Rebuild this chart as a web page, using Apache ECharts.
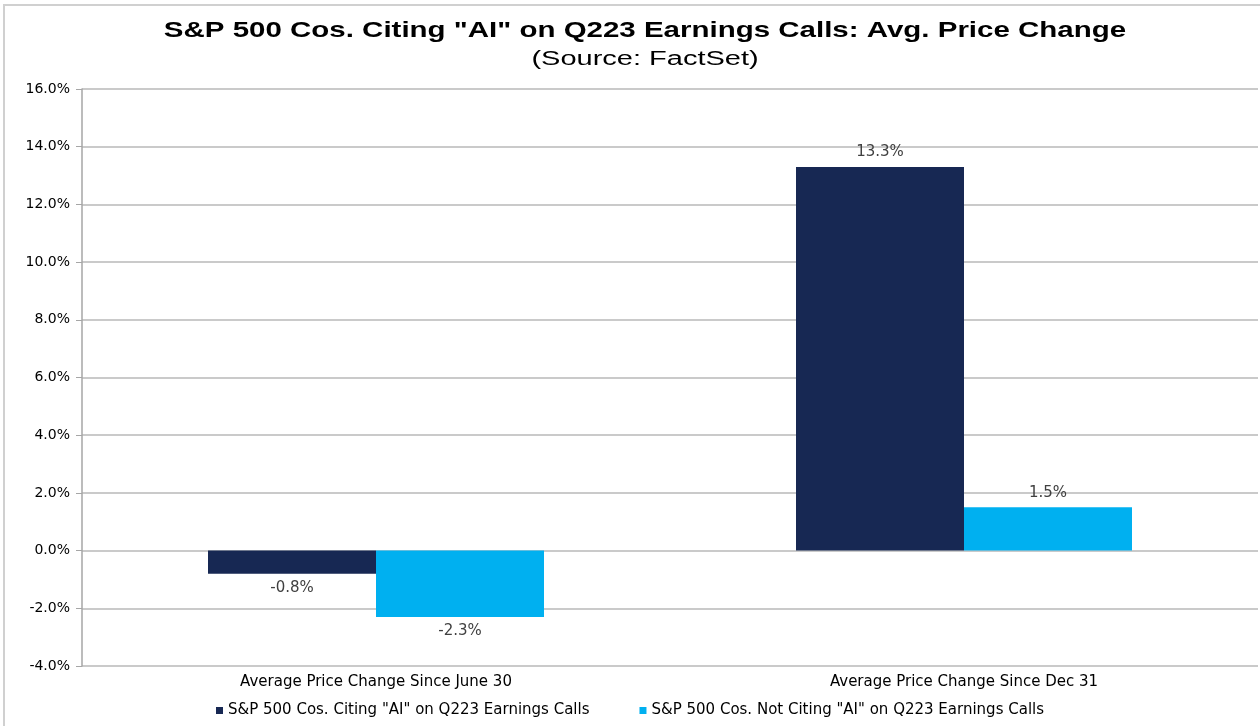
<!DOCTYPE html>
<html>
<head>
<meta charset="utf-8">
<script src="https://cdn.jsdelivr.net/npm/echarts@6/dist/echarts.min.js"></script>
<style>
  html, body { margin: 0; padding: 0; background: #fff; }
  #chart { width: 1260px; height: 726px; }
</style>
</head>
<body>
<div id="chart"></div>
<script>
// data
var categories = ['Average Price Change Since June 30', 'Average Price Change Since Dec 31'];
var seriesNames = ['S&P 500 Cos. Citing "AI" on Q223 Earnings Calls', 'S&P 500 Cos. Not Citing "AI" on Q223 Earnings Calls'];
var citingAI = [-0.8, 13.3];
var notCitingAI = [-2.3, 1.5];

var titleText = 'S&P 500 Cos. Citing "AI" on Q223 Earnings Calls: Avg. Price Change';
var subtitleText = '(Source: FactSet)';

var chart = echarts.init(document.getElementById('chart'));

function pctLabel(p) {
  return p.value.toFixed(1) + '%';
}

// the reference text is drawn wide, so the title is stretched sideways
var option = {
  backgroundColor: '#fff',
  animation: false,
  color: ['#172853', '#00b0f0'],
  textStyle: { fontFamily: 'DejaVu Sans, sans-serif' },
  graphic: [{
    type: 'rect',
    shape: { x: 4, y: 5, width: 1262, height: 730 },
    style: { fill: 'none', stroke: '#d0d0d0', lineWidth: 2 },
    silent: true
  }, {
    type: 'text',
    x: 645,
    y: 31,
    scaleX: 1.34,
    style: {
      text: titleText,
      font: 'bold 22px "Liberation Sans", Arial, sans-serif',
      fill: '#000',
      textAlign: 'center',
      textVerticalAlign: 'middle'
    }
  }, {
    type: 'text',
    x: 645,
    y: 59,
    scaleX: 1.45,
    style: {
      text: subtitleText,
      font: '20px "Liberation Sans", Arial, sans-serif',
      fill: '#000',
      textAlign: 'center',
      textVerticalAlign: 'middle'
    }
  }],
  legend: {
    bottom: 3,
    left: 'center',
    itemWidth: 7,
    itemHeight: 7,
    itemGap: 50,
    icon: 'rect',
    textStyle: { fontSize: 15, color: '#000' },
    data: seriesNames
  },
  grid: {
    left: 82,
    right: 2,
    top: 89,
    bottom: 60
  },
  xAxis: {
    type: 'category',
    data: categories,
    axisLine: { show: false },
    axisTick: { show: false },
    axisLabel: { fontSize: 15, color: '#000', margin: 9 }
  },
  yAxis: {
    type: 'value',
    min: -4,
    max: 16,
    interval: 2,
    axisLine: { show: true, lineStyle: { color: '#a6a6a6', width: 1.5 } },
    axisTick: { show: true, length: 6, lineStyle: { color: '#a6a6a6' } },
    axisLabel: {
      fontSize: 14,
      color: '#000',
      margin: 12,
      formatter: function (v) { return v.toFixed(1) + '%'; }
    },
    splitLine: { lineStyle: { color: '#b8b8b8', width: 1.5 } }
  },
  series: [{
    name: seriesNames[0],
    type: 'bar',
    data: citingAI,
    barWidth: 168,
    barGap: '0%',
    label: {
      show: true,
      position: 'outside',
      fontSize: 15,
      color: '#404040',
      distance: 7,
      formatter: pctLabel
    }
  }, {
    name: seriesNames[1],
    type: 'bar',
    data: notCitingAI,
    barWidth: 168,
    barGap: '0%',
    label: {
      show: true,
      position: 'outside',
      fontSize: 15,
      color: '#404040',
      distance: 7,
      formatter: pctLabel
    }
  }]
};

chart.setOption(option);
</script>
</body>
</html>
